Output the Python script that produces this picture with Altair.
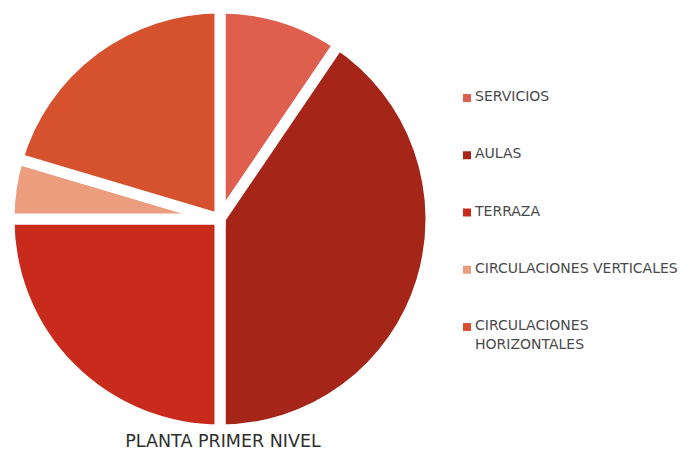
import altair as alt
import pandas as pd

categories = ["SERVICIOS", "AULAS", "TERRAZA", "CIRCULACIONES VERTICALES", "CIRCULACIONES HORIZONTALES"]
legend_labels = ["SERVICIOS", "AULAS", "TERRAZA", "CIRCULACIONES VERTICALES", "CIRCULACIONES|HORIZONTALES"]
values = [9.5, 40.5, 25.0, 4.6, 20.4]
colors = ["#de5f4e", "#a62519", "#c82a1c", "#eb9d7d", "#d6522f"]
title_text = "PLANTA PRIMER NIVEL"

df = pd.DataFrame({
    "categoria": categories,
    "etiqueta": legend_labels,
    "valor": values,
    "orden": list(range(len(categories))),
})

FONT = "DejaVu Sans, Liberation Sans, sans-serif"
color_scale = alt.Scale(domain=categories, range=colors)

pie = alt.Chart(df).mark_arc(
    outerRadius=211, stroke="white", strokeWidth=11, strokeJoin="miter"
).encode(
    theta=alt.Theta("valor:Q", stack=True),
    order=alt.Order("orden:Q"),
    x=alt.value(212),
    y=alt.value(211),
    color=alt.Color("categoria:N", scale=color_scale, legend=None),
)

leg_y = alt.Y("categoria:N", scale=alt.Scale(domain=categories, type="point", range=[90, 319], padding=0), axis=None)

leg_sym = alt.Chart(df).mark_square(size=64, opacity=1).encode(
    x=alt.value(459),
    y=leg_y,
    color=alt.Color("categoria:N", scale=color_scale, legend=None),
)

leg_txt = alt.Chart(df).mark_text(
    font=FONT, fontSize=14, color="#4a4a4a", align="left",
    baseline="top", dy=-8, lineBreak="|", lineHeight=19,
).encode(
    x=alt.value(467),
    y=leg_y,
    text="etiqueta:N",
)

title_df = pd.DataFrame({"t": [title_text]})
title = alt.Chart(title_df).mark_text(
    font=FONT, fontSize=17.5, color="#2e2e2e", align="center", baseline="middle"
).encode(text="t:N", x=alt.value(215), y=alt.value(434))

chart = alt.layer(pie, leg_sym, leg_txt, title).resolve_scale(y="independent").properties(
    width=681, height=450, autosize=alt.AutoSizeParams(type="none"), padding=0
).configure_view(stroke=None)

chart.save("out.html", embed_options={"renderer": "svg", "actions": False})
